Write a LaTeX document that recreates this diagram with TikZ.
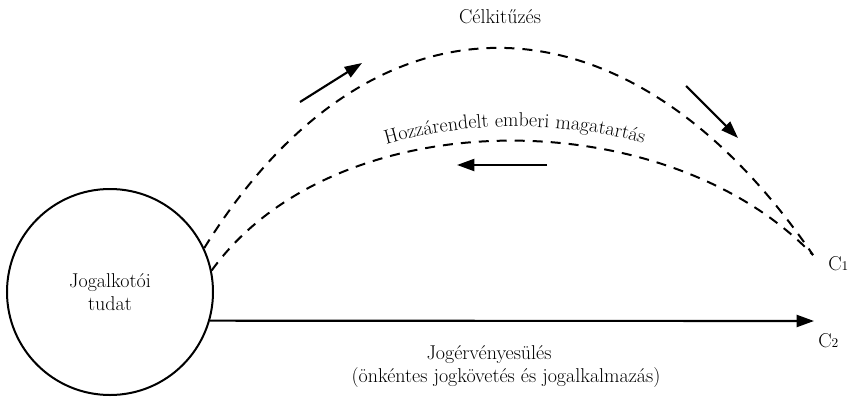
\documentclass[tikz,border=0pt]{standalone}
\usetikzlibrary{arrows.meta,decorations.text}
\begin{document}
\begin{tikzpicture}[x=0.75pt,y=-0.75pt,font=\fontsize{15}{17.3}\selectfont]

\tikzstyle{tudatkor}=[circle, draw, line width=1.5pt, minimum size=154.5pt, inner sep=0pt, align=center]
\tikzstyle{ivdash}=[line width=1.5pt, dash pattern=on 7.5pt off 6pt]
\tikzstyle{arrow}=[-{Triangle[length=13pt,width=9pt]}, line width=1.6pt]
\tikzstyle{felirat}=[anchor=base, inner sep=0pt]

\useasboundingbox (0,0) rectangle (848,396);

\node (tudat) [tudatkor] at (110,292) {Jogalkotói\\tudat};

\coordinate (vegC1) at (813,255);
\coordinate (vegC2) at (814,321);
\node (C1) [felirat, anchor=base west] at (828,270) {C{\fontsize{10}{10}\selectfont 1}};
\node (C2) [felirat, anchor=base west] at (818,347) {C{\fontsize{10}{10}\selectfont 2}};

\node (cel) [felirat] at (500,23) {Célkitűzés};
\node (jog1) [felirat] at (489,359) {Jogérvényesülés};
\node (jog2) [felirat] at (506,382) {(önkéntes jogkövetés és jogalkalmazás)};

% ivek
\draw [ivdash] (tudat.25) .. controls (370,-20) and (625,-20) .. (vegC1);
\draw [ivdash] (tudat.12) .. controls (335,100) and (665,100) .. (vegC1);
\path [decorate, decoration={text along path, text align=center,
  text={|\fontsize{15}{17.3}\selectfont|Hozzárendelt emberi magatartás}}]
  (221,252) .. controls (340,86) and (680,86) .. (813,245);

% iranyok
\coordinate (ny1a) at (300,102);
\coordinate (ny1b) at (362,63);
\coordinate (ny2a) at (686,86);
\coordinate (ny2b) at (738,138);
\coordinate (ny3a) at (547,165);
\coordinate (ny3b) at (457,165);
\draw [arrow] (ny1a) -- (ny1b);
\draw [arrow] (ny2a) -- (ny2b);
\draw [arrow] (ny3a) -- (ny3b);

\draw [arrow] (tudat.-16) -- (vegC2);

\end{tikzpicture}
\end{document}
